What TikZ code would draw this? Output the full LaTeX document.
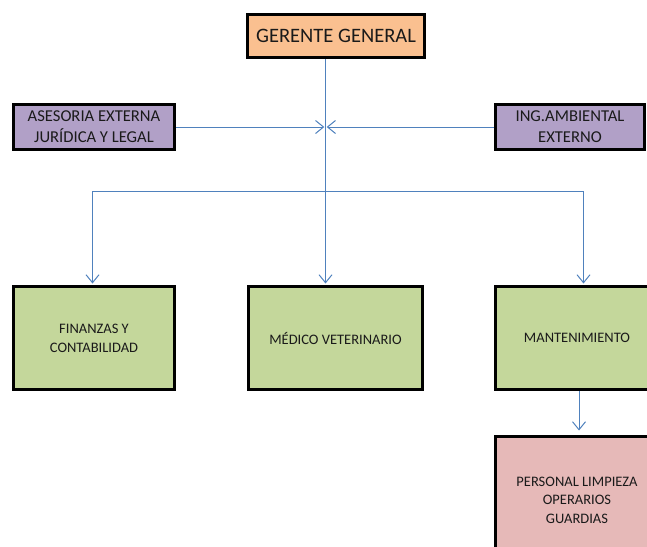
\documentclass[tikz,border=0pt]{standalone}
\usepackage{fontspec}
\setmainfont{Carlito}
\usetikzlibrary{arrows.meta}

\definecolor{boxorange}{HTML}{FAC090}
\definecolor{boxlilac}{HTML}{B1A0C7}
\definecolor{boxgreen}{HTML}{C4D79B}
\definecolor{boxpink}{HTML}{E6B9B8}
\definecolor{linkblue}{HTML}{4F81BD}
\definecolor{inkgray}{HTML}{1A1A1A}

\tikzset{
  unit/.style={draw=black, line width=3pt, rectangle, inner sep=0pt,
    align=center, text=inkgray},
  topbox/.style={unit, fill=boxorange, font=\fontsize{20.5}{24}\selectfont},
  advbox/.style={unit, fill=boxlilac, font=\fontsize{16.6}{21}\selectfont},
  deptbox/.style={unit, fill=boxgreen, font=\fontsize{14.5}{19}\selectfont},
  staffbox/.style={unit, fill=boxpink, font=\fontsize{14.5}{18.5}\selectfont},
  link/.style={draw=linkblue, line width=1pt},
  arr/.style={link, -{Straight Barb[length=8pt, width=13pt, line width=1pt]}}
}

\begin{document}
\begin{tikzpicture}[x=1pt, y=-1pt]
  \useasboundingbox (0,0) rectangle (647,546);
  \clip (0,0) rectangle (647,546);

  % boxes
  \node[topbox, minimum width=177pt, minimum height=43pt] (gg) at (336,36) {GERENTE GENERAL};
  \node[advbox, minimum width=161pt, minimum height=45pt] (ase) at (94,127) {ASESORIA EXTERNA\\JURÍDICA Y LEGAL};
  \node[advbox, minimum width=149pt, minimum height=45pt] (ing) at (570,127) {ING.AMBIENTAL\\EXTERNO};
  \node[deptbox, minimum width=161pt, minimum height=103pt] (fin) at (94,338) {FINANZAS Y\\CONTABILIDAD};
  \node[deptbox, minimum width=174pt, minimum height=103pt] (med) at (335.5,338) {MÉDICO VETERINARIO};
  \node[deptbox, minimum width=163pt, minimum height=103pt] (man) at (577,338) {MANTENIMIENTO};
  \node[staffbox, minimum width=163pt, minimum height=128pt] (per) at (577,500) {PERSONAL LIMPIEZA\\OPERARIOS\\GUARDIAS};

  % connector anchors
  \coordinate (spine) at (325.5,59);
  \coordinate (busL) at (92.5,191);
  \coordinate (busR) at (583.5,191);
  \coordinate (drop) at (579,391);

  % main vertical line and side advisors
  \draw[arr, shorten >=1.5pt] (gg.south -| spine) -- (med.north -| spine);
  \draw[arr, shorten >=1.2pt] (ase.east) -- (spine |- ase.east);
  \draw[arr, shorten >=1.2pt] (ing.west) -- (spine |- ing.west);

  % distribution bus
  \draw[link] (busL) -- (busR);
  \draw[arr, shorten >=1.5pt] (busL) -- (busL |- fin.north);
  \draw[arr, shorten >=1.5pt] (busR) -- (busR |- man.north);

  % maintenance staff
  \draw[arr, shorten >=4pt] (man.south -| drop) -- (per.north -| drop);
\end{tikzpicture}
\end{document}
